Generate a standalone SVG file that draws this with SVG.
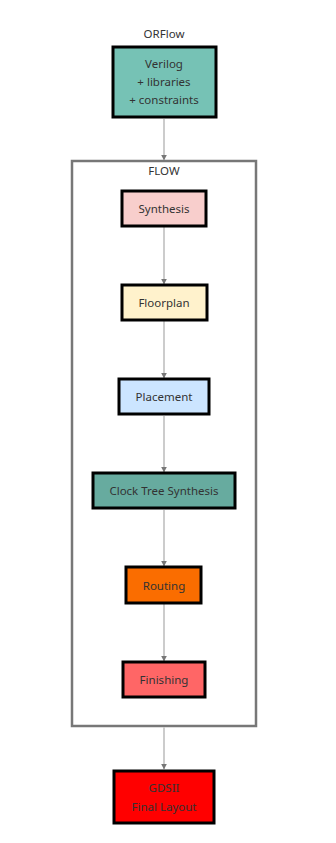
<svg xmlns="http://www.w3.org/2000/svg" width="336" height="843" viewBox="0 0 336 843">
<defs>
<style>
text{font-family:"Noto Sans","Open Sans","DejaVu Sans",sans-serif;font-size:11.5px;fill:#333;text-anchor:middle;dominant-baseline:central}
.node rect{stroke:#000;stroke-width:3}
.edge{stroke:#cccccc;stroke-width:2;fill:none}
</style>
<marker id="ah" viewBox="0 0 10 10" refX="9" refY="5" markerWidth="6" markerHeight="6" markerUnits="userSpaceOnUse" orient="auto">
<path d="M0,0 L10,5 L0,10 z" fill="#777"/>
</marker>
</defs>
<rect width="336" height="843" fill="#fff"/>
<text x="164" y="33">ORFlow</text>
<g id="cluster-flow">
<rect x="72" y="161" width="184" height="565" fill="#fff" stroke="#777" stroke-width="2.5"/>
<text x="164" y="170">FLOW</text>
</g>
<g id="connectors">
<line class="edge" x1="164" y1="119" x2="164" y2="160" marker-end="url(#ah)"/>
<line class="edge" x1="164" y1="227" x2="164" y2="284" marker-end="url(#ah)"/>
<line class="edge" x1="164" y1="321" x2="164" y2="378" marker-end="url(#ah)"/>
<line class="edge" x1="164" y1="416" x2="164" y2="472" marker-end="url(#ah)"/>
<line class="edge" x1="164" y1="510" x2="164" y2="566" marker-end="url(#ah)"/>
<line class="edge" x1="164" y1="604" x2="164" y2="661" marker-end="url(#ah)"/>
<line class="edge" x1="164" y1="727" x2="164" y2="769" marker-end="url(#ah)"/>
</g>
<g id="verilog" class="node">
<rect x="113" y="47" width="103" height="70" fill="#76c2b5"/>
<text x="164" y="63">Verilog</text>
<text x="164" y="81">+ libraries</text>
<text x="164" y="99">+ constraints</text>
</g>
<g id="synthesis" class="node">
<rect x="122" y="191" width="84" height="35" fill="#f8cecc"/>
<text x="164" y="208">Synthesis</text>
</g>
<g id="floorplan" class="node">
<rect x="122" y="285" width="85" height="35" fill="#fff2cc"/>
<text x="164" y="302">Floorplan</text>
</g>
<g id="placement" class="node">
<rect x="119" y="379" width="90" height="35" fill="#cce5ff"/>
<text x="164" y="396">Placement</text>
</g>
<g id="cts" class="node">
<rect x="93" y="473" width="142" height="35" fill="#67ab9f"/>
<text x="164" y="490">Clock Tree Synthesis</text>
</g>
<g id="routing" class="node">
<rect x="126" y="567" width="75" height="36" fill="#fa6d00"/>
<text x="164" y="585">Routing</text>
</g>
<g id="finishing" class="node">
<rect x="123" y="662" width="82" height="35" fill="#ff6666"/>
<text x="164" y="679">Finishing</text>
</g>
<g id="gdsii" class="node">
<rect x="114" y="771" width="100" height="52" fill="#ff0000"/>
<text x="164" y="787">GDSII</text>
<text x="164" y="806">Final Layout</text>
</g>
</svg>
